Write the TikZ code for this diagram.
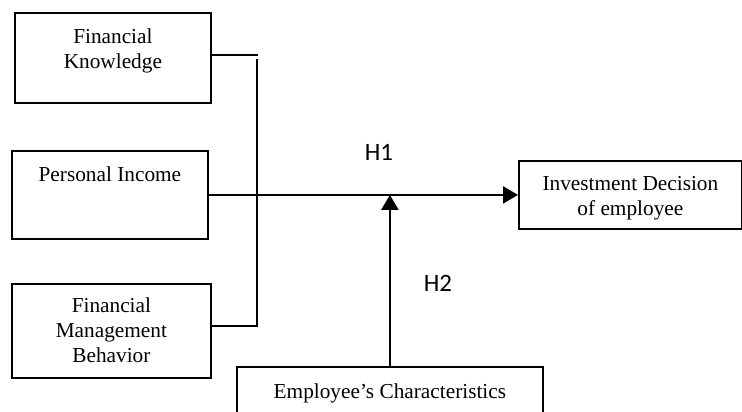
\documentclass[tikz,border=0pt]{standalone}
\usepackage{fontspec}
\setmainfont{Liberation Serif}
\newfontfamily\hypfont{Carlito}
\usetikzlibrary{arrows.meta, positioning}

\begin{document}
\begin{tikzpicture}[x=1pt, y=-1pt,
    >={Triangle[length=15pt, width=17pt]},
    line width=2.2pt,
    box/.style={rectangle,
                draw=black,
                line width=1.8pt,
                inner sep=0pt,
                anchor=north west,
                align=center,
                font=\fontsize{21.3}{25}\selectfont},
    hyp/.style={inner sep=0pt, font=\hypfont\fontsize{25}{29}\selectfont}]

  \useasboundingbox (0,0) rectangle (742,412);

  % Independent variables on the left:
  \node[box, minimum width=196pt, text height=56pt, text depth=34pt] (Knowledge) at (14,12)
        {Financial\\Knowledge};
  \node[box, minimum width=196pt, text height=31pt, text depth=57pt] (Income) at (11,150)
        {Personal Income};
  \node[box, minimum width=199pt, text height=79pt, text depth=15pt] (Behavior) at (11,283)
        {Financial\\Management\\Behavior};

  % Dependent variable and moderator
  \node[box, minimum width=223pt, text height=55pt, text depth=13pt] (Decision) at (518,160)
        {Investment Decision\\of employee};
  \node[box, minimum width=306pt, text height=32pt, text depth=40pt] (Traits) at (236,366)
        {Employee’s Characteristics};

  % Hypotheses
  \node[hyp] (HypOne) at (379,152) {H1};
  \node[hyp] (HypTwo) at (438,283) {H2};

  % Bracket joining the three predictors
  \coordinate (bartop) at (257,59);
  \coordinate (barbot) at (257,326);
  \draw ([yshift=3pt]Knowledge.east) -- +(46,0);
  \draw (bartop) -- (barbot) -- (Behavior.east |- barbot);

  % Arrows
  \draw[->] (Income.east) -- (Income.east -| Decision.west);
  \draw[->] (Traits.north) -- (Traits.north |- Income.east);

\end{tikzpicture}
\end{document}
